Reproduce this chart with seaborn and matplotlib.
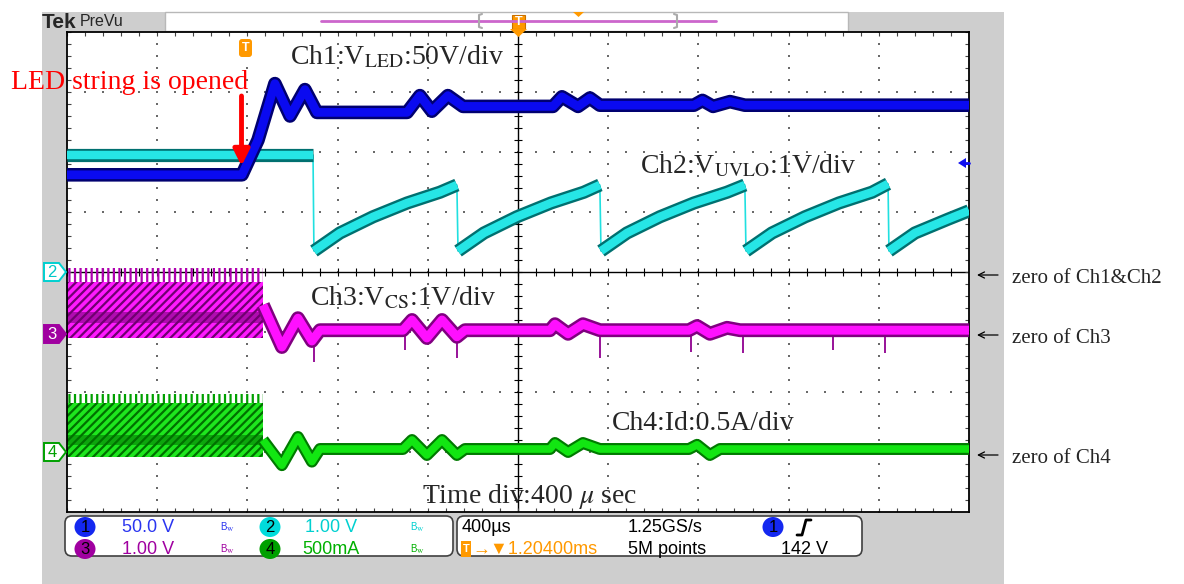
import matplotlib
matplotlib.use("Agg")
import matplotlib.pyplot as plt
import numpy as np
import pandas as pd
import seaborn as sns
from matplotlib.patches import Ellipse, FancyArrowPatch, FancyBboxPatch, Polygon, Rectangle

# scope settings: units per division, trace position (div), time base
CH_SCALE = {"ch1": 50.0, "ch2": 1.0, "ch3": 1.0, "ch4": 0.5}
CH_POS = {"ch1": 0.0, "ch2": 0.0, "ch3": -1.0, "ch4": -3.0}
T_LEFT = -798.0   # us, left edge of screen relative to trigger
T_DIV = 400.0     # us/div

# Ch1: V_LED (V)
ch1_t = [-798, -22, 49, 124, 191, 257, 310, 710, 767, 820, 891, 958, 1357, 1397, 1468,
         1521, 1565, 1982, 2020, 2067, 2142, 2208, 3202]
ch1_v = [81, 81, 110, 157, 130, 152, 133, 133, 147, 134, 147, 138, 138, 146, 138,
         145, 139, 139, 143, 138, 142, 139, 139]

# Ch2: V_UVLO (V), cycle id splits the ramps
ch2_t = [-798, 293, 297, 412, 559, 710, 856, 931, 936, 1051, 1197, 1348, 1494, 1565,
         1570, 1685, 1831, 1982, 2129, 2208, 2213, 2328, 2475, 2625, 2772, 2843,
         2847, 2962, 3109, 3202]
ch2_v = [1.95, 1.95, 0.35, 0.65, 0.92, 1.15, 1.33, 1.45, 0.35, 0.65, 0.92, 1.15, 1.33, 1.45,
         0.35, 0.65, 0.92, 1.15, 1.33, 1.45, 0.35, 0.65, 0.92, 1.15, 1.33, 1.47,
         0.35, 0.65, 0.88, 1.02]
ch2_cycle = [0, 0, 1, 1, 1, 1, 1, 1, 2, 2, 2, 2, 2, 2, 3, 3, 3, 3, 3, 3,
             4, 4, 4, 4, 4, 4, 5, 5, 5, 5]

# Ch3: V_CS (V) after switching stops
ch3_t = [71, 155, 226, 288, 324, 692, 732, 798, 865, 931, 967, 1344, 1366, 1424, 1490,
         1565, 1960, 1996, 2053, 2129, 2186, 3202]
ch3_v = [0.45, -0.25, 0.23, -0.15, 0.03, 0.03, 0.2, -0.1, 0.2, -0.08, 0.03, 0.03, 0.13,
         -0.03, 0.13, 0.03, 0.03, 0.1, -0.03, 0.07, 0.03, 0.03]
ch3_burst_t = [-798, 71]
ch3_burst_lo, ch3_burst_hi, ch3_burst_peak = -0.10, 0.83, 1.07
ch3_burst_dark = (0.15, 0.33)
ch3_spike_t = [297, 701, 931, 1565, 1969, 2200, 2599, 2829]
ch3_spike_v = [-0.5, -0.3, -0.43, -0.43, -0.33, -0.35, -0.3, -0.35]

# Ch4: Id (A)
ch4_t = [71, 155, 226, 288, 324, 692, 732, 798, 865, 931, 967, 1344, 1366, 1424, 1490,
         1565, 1960, 1996, 2053, 2098, 3202]
ch4_i = [0.1, -0.11, 0.125, -0.08, 0.025, 0.025, 0.1, -0.025, 0.1, -0.025, 0.025, 0.025,
         0.075, 0.0, 0.075, 0.025, 0.025, 0.06, -0.025, 0.025, 0.025]
ch4_burst_t = [-798, 71]
ch4_burst_lo, ch4_burst_hi, ch4_burst_peak = -0.04, 0.41, 0.48
ch4_burst_dark = (0.06, 0.14)

W, H = 1184, 584
GL, GT, GR, GB = 67, 32, 969, 512   # graticule, pixels
SERIF = ["Liberation Serif", "DejaVu Serif"]
SANS = ["Liberation Sans", "DejaVu Sans"]


def scr(ch, vals):
    return np.asarray(vals, dtype=float) / CH_SCALE[ch] + CH_POS[ch]


def trace(ax, t, y, bright, dark, width, units=None, z=3):
    df = pd.DataFrame({"t": t, "y": y, "u": units if units is not None else [0] * len(t)})
    for color, lw in ((dark, width), (bright, width * 0.64)):
        sns.lineplot(data=df, x="t", y="y", units="u", estimator=None, sort=False,
                     color=color, lw=lw, ax=ax, legend=False, zorder=z,
                     solid_capstyle="butt")


def burst(ax, ch, t, lo, hi, peak, dark_band, bright, dark, spike):
    ax.fill_between(t, scr(ch, [lo] * 2), scr(ch, [hi] * 2), facecolor=bright,
                    edgecolor=dark, hatch="////", lw=0, zorder=2)
    ax.fill_between(t, scr(ch, [dark_band[0]] * 2), scr(ch, [dark_band[1]] * 2),
                    facecolor=dark, alpha=0.55, lw=0, zorder=2.1)
    ax.fill_between(t, scr(ch, [hi] * 2), scr(ch, [peak] * 2), facecolor="none",
                    edgecolor=spike, hatch="|||", lw=0, zorder=2)


def graticule(ax):
    t_right = T_LEFT + 10 * T_DIV
    t_mid = T_LEFT + 5 * T_DIV
    minor_t = T_LEFT + T_DIV / 5 * np.arange(51)
    minor_y = np.linspace(-4, 4, 41)
    dx, dy = [], []
    for k in range(1, 10):
        if k == 5:
            continue
        tk = T_LEFT + k * T_DIV
        dx += [tk] * len(minor_y)
        dy += list(minor_y)
    for j in (-3, -2, -1, 1, 2, 3):
        dx += list(minor_t)
        dy += [j] * len(minor_t)
    ax.scatter(dx, dy, s=2.2, marker="s", color="#6a6a6a", lw=0, zorder=1)
    tx = 4 / 90.2 * T_DIV
    ty = 4 / 60
    ax.axhline(0, color="black", lw=1.0, zorder=1.5)
    ax.axvline(t_mid, color="black", lw=1.0, zorder=1.5)
    ax.vlines(minor_t, -ty, ty, color="black", lw=0.8, zorder=1.5)
    ax.hlines(minor_y, t_mid - tx, t_mid + tx, color="black", lw=0.8, zorder=1.5)
    ax.vlines(minor_t, 4 - ty, 4, color="#444444", lw=0.8, zorder=1.5)
    ax.vlines(minor_t, -4, -4 + ty, color="#444444", lw=0.8, zorder=1.5)
    ax.hlines(minor_y, T_LEFT, T_LEFT + tx, color="#444444", lw=0.8, zorder=1.5)
    ax.hlines(minor_y, t_right - tx, t_right, color="#444444", lw=0.8, zorder=1.5)


sns.set_style("white")
plt.rcParams["font.family"] = SERIF
plt.rcParams["mathtext.fontset"] = "stix"
plt.rcParams["hatch.linewidth"] = 1.6

fig = plt.figure(figsize=(W / 100, H / 100), dpi=100)
fig.patch.set_facecolor("white")

bg = fig.add_axes([0, 0, 1, 1], zorder=-2)
bg.set_xlim(0, W)
bg.set_ylim(H, 0)
bg.axis("off")
bg.add_patch(Rectangle((42, 12), 962, 572, fc="#cecece", ec="none"))
bg.add_patch(Rectangle((165, 12), 683, 19, fc="white", ec="#b8b8b8", lw=1))

ax = fig.add_axes([GL / W, 1 - GB / H, (GR - GL) / W, (GB - GT) / H], zorder=0)
ax.set_facecolor("white")
ax.set_xlim(T_LEFT, T_LEFT + 10 * T_DIV)
ax.set_ylim(-4, 4)
ax.set_xticks([])
ax.set_yticks([])
for sp in ax.spines.values():
    sp.set_color("black")
    sp.set_linewidth(1.3)
graticule(ax)

# Ch4 burst + trace
burst(ax, "ch4", ch4_burst_t, ch4_burst_lo, ch4_burst_hi, ch4_burst_peak, ch4_burst_dark,
      "#1ee61e", "#007000", "#00a000")
trace(ax, ch4_t, scr("ch4", ch4_i), "#12e612", "#007a00", 8.6)

# Ch3 burst + trace
burst(ax, "ch3", ch3_burst_t, ch3_burst_lo, ch3_burst_hi, ch3_burst_peak, ch3_burst_dark,
      "#ff1aff", "#700070", "#b000b0")
ax.vlines(ch3_spike_t, scr("ch3", [0.03] * len(ch3_spike_t)), scr("ch3", ch3_spike_v),
          color="#900090", lw=1.3, zorder=2.5)
trace(ax, ch3_t, scr("ch3", ch3_v), "#ff10ff", "#800080", 10.0)

# Ch2 thin path (drops) and thick ramps
sns.lineplot(x=ch2_t, y=scr("ch2", ch2_v), sort=False, estimator=None, color="#20e0e0",
             lw=1.2, ax=ax, zorder=3)
trace(ax, ch2_t, scr("ch2", ch2_v), "#26e6e6", "#007070", 9.5, units=ch2_cycle)

# Ch1
trace(ax, ch1_t, scr("ch1", ch1_v), "#0a0af0", "#000070", 9.8, z=4)
ax.set_xlabel("")
ax.set_ylabel("")

# overlay in pixel coordinates
ov = fig.add_axes([0, 0, 1, 1], zorder=5)
ov.set_xlim(0, W)
ov.set_ylim(H, 0)
ov.axis("off")
ov.patch.set_alpha(0)

ov.text(42, 22, "Tek", family=SANS, weight="bold", fontsize=15, va="center", ha="left")
ov.text(80, 21, "PreVu", family=SANS, fontsize=11.5, va="center", ha="left")
ov.plot([321, 716], [21, 21], color="#cc66cc", lw=2)
for xb, d in ((479, 1), (677, -1)):
    ov.plot([xb + 3 * d, xb, xb, xb + 3 * d], [14, 15, 27, 28], color="#aaaaaa", lw=1.5)
ov.add_patch(Rectangle((512, 15), 13, 14, fc="#ff9900", ec="#c87000", lw=0.8))
ov.text(518.5, 22, "T", family=SANS, weight="bold", fontsize=9, color="white", ha="center", va="center")
ov.add_patch(Polygon([(510, 29), (527, 29), (518.5, 37)], fc="#ff9900", ec="none"))
ov.add_patch(Polygon([(573, 12), (584, 12), (578.5, 17)], fc="#ff9900", ec="none"))
ov.add_patch(FancyBboxPatch((239, 39), 13, 18, boxstyle="round,pad=0,rounding_size=3",
                            fc="#ff9900", ec="none"))
ov.text(245.5, 48, "T", family=SANS, weight="bold", fontsize=9, color="white", ha="center", va="center")

# channel position markers
for y, label, fc, ec, tc in ((272, "2", "white", "#00d0d0", "#00c8c8"),
                             (334, "3", "#a000a0", "#a000a0", "white"),
                             (452, "4", "white", "#00a000", "#00a000")):
    ov.add_patch(Polygon([(44, y - 9), (59, y - 9), (66, y), (59, y + 9), (44, y + 9)],
                         fc=fc, ec=ec, lw=1.4))
    ov.text(52, y + 0.5, label, family=SANS, fontsize=12, color=tc, ha="center", va="center")
ov.add_patch(Polygon([(958, 163), (966, 158), (966, 168)], fc="#1010f0", ec="none"))
ov.plot([964, 969], [163, 163], color="#1010f0", lw=2)

# annotations
ov.text(11, 89, "LED string is opened", color="#ff0000", fontsize=20, ha="left", va="baseline")
ov.add_artist(FancyArrowPatch((241.5, 96), (241.5, 166), arrowstyle="-|>", mutation_scale=24,
                              color="#ff0000", lw=3.5, shrinkA=0, shrinkB=0))
ov.text(290, 64, r"Ch1:V$_{\mathrm{LED}}$:50V/div", fontsize=20, ha="left", va="baseline")
ov.text(640, 173, r"Ch2:V$_{\mathrm{UVLO}}$:1V/div", fontsize=20, ha="left", va="baseline")
ov.text(310, 305, r"Ch3:V$_{\mathrm{CS}}$:1V/div", fontsize=20, ha="left", va="baseline")
ov.text(612, 430, "Ch4:Id:0.5A/div", fontsize=20, ha="left", va="baseline")
ov.text(422, 503, r"Time div:400 $\mu$ sec", fontsize=20, ha="left", va="baseline")
for y, label in ((283, "zero of Ch1&Ch2"), (343, "zero of Ch3"), (463, "zero of Ch4")):
    ov.annotate("", xy=(977, y - 8), xytext=(998, y - 8),
                arrowprops=dict(arrowstyle="->", lw=0.9, color="black", mutation_scale=11,
                                shrinkA=0, shrinkB=0))
    ov.text(1012, y, label, fontsize=15, ha="left", va="baseline")

# status readout
for x0, w in ((65, 388), (457, 405)):
    ov.add_patch(FancyBboxPatch((x0, 516), w, 40, boxstyle="round,pad=0,rounding_size=7",
                                fc="white", ec="#404040", lw=1.2))
for x, y, label, fc in ((85, 527, "1", "#1428f0"), (270, 527, "2", "#00dcdc"),
                        (85, 549, "3", "#a000a0"), (270, 549, "4", "#00a000"),
                        (773, 527, "1", "#1428f0")):
    ov.add_patch(Ellipse((x, y), 21, 20, fc=fc, ec="none"))
    ov.text(x, y + 0.5, label, family=SANS, fontsize=12, color="black", ha="center", va="center")
for x, y, label, color in ((122, 527, "50.0 V", "#2a35f0"), (305, 527, "1.00 V", "#00d0d0"),
                           (122, 549, "1.00 V", "#a000a0"), (302, 549, "500mA", "#00b000")):
    ov.text(x, y, label, family=SANS, fontsize=13, color=color, ha="left", va="center")
for x, y, color in ((220, 527, "#2a35f0"), (410, 527, "#00d0d0"),
                    (220, 549, "#a000a0"), (410, 549, "#00b000")):
    ov.text(x, y, r"B$_{\mathrm{W}}$", family=SANS, fontsize=7, color=color, ha="left", va="center")
for x, y, label in ((462, 527, "400\u00b5s"), (628, 527, "1.25GS/s"),
                    (628, 549, "5M points"), (781, 549, "142 V")):
    ov.text(x, y, label, family=SANS, fontsize=13, color="black", ha="left", va="center")
ov.plot([797, 802, 806, 811], [535, 535, 520, 520], color="black", lw=2)
ov.add_patch(Rectangle((461, 541), 10, 16, fc="#ff9900", ec="none"))
ov.text(466, 549.5, "T", family=SANS, weight="bold", fontsize=8, color="white", ha="center", va="center")
ov.text(472, 549, "\u2192\u25bc1.20400ms", family=SANS, fontsize=13, color="#ff9900",
        ha="left", va="center")

fig.savefig("out.png", dpi=100)
